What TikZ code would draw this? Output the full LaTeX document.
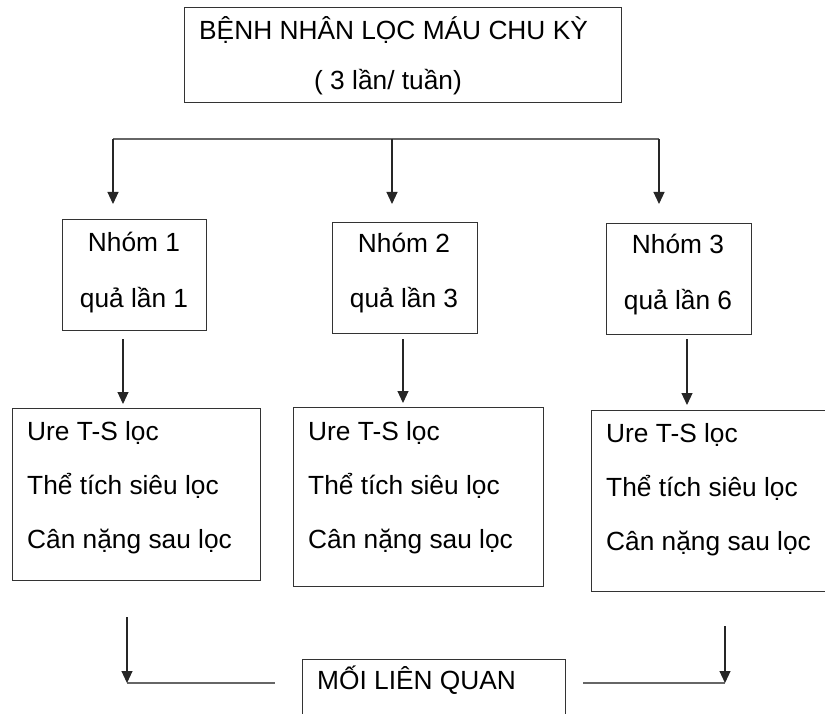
\documentclass[tikz,border=0pt]{standalone}
\usepackage{fontspec}
\setmainfont{Liberation Sans}
\usetikzlibrary{arrows.meta}
\begin{document}
\begin{tikzpicture}[x=1pt,y=-1pt,
  box/.style={draw=black!80,line width=1.2pt,inner sep=0pt,anchor=north west},
  txt/.style={inner sep=0pt,font=\fontsize{26.3}{30}\selectfont},
  lnk/.style={draw=black!60,line width=1.4pt},
  arr/.style={draw=black!85,line width=1.1pt,-{Triangle[width=11pt,length=12pt]}}]
\useasboundingbox (0,0) rectangle (825,714);
\fill[white] (0,0) rectangle (825,714);
\clip (0,0) rectangle (825,714);
% top box
\node[box,minimum width=437pt,minimum height=95pt] (top) at (184,7) {};
\node[txt,anchor=base west] (t1) at (199,40) {BỆNH NHÂN LỌC MÁU CHU KỲ};
\node[txt,anchor=base west] (t2) at (314,90) {( 3 lần/ tuần)};
% distribution line
\coordinate (c1) at (113,139);
\coordinate (c2) at (392,139);
\coordinate (c3) at (659,139);
\coordinate (e1) at (113,204);
\coordinate (e2) at (392,204);
\coordinate (e3) at (659,204);
\draw[lnk] (c1) -- (c3);
\draw[arr] (c1) -- (e1);
\draw[arr] (c2) -- (e2);
\draw[arr] (c3) -- (e3);
% group boxes
\node[box,minimum width=144pt,minimum height=111pt] (g1) at (62,219) {};
\node[box,minimum width=145pt,minimum height=111pt] (g2) at (332,222) {};
\node[box,minimum width=145pt,minimum height=111pt] (g3) at (606,223) {};
\node[txt,anchor=base] (g1a) at (134,252) {Nhóm 1};
\node[txt,anchor=base] (g1b) at (134,307) {quả lần 1};
\node[txt,anchor=base] (g2a) at (404,253) {Nhóm 2};
\node[txt,anchor=base] (g2b) at (404,308) {quả lần 3};
\node[txt,anchor=base] (g3a) at (678,254) {Nhóm 3};
\node[txt,anchor=base] (g3b) at (678,309) {quả lần 6};
% arrows to result boxes
\coordinate (s1) at (123,339);
\coordinate (s2) at (403,339);
\coordinate (s3) at (687,339);
\coordinate (f1) at (123,404);
\coordinate (f2) at (403,403);
\coordinate (f3) at (687,405);
\draw[arr] (s1) -- (f1);
\draw[arr] (s2) -- (f2);
\draw[arr] (s3) -- (f3);
% result boxes
\node[box,minimum width=248pt,minimum height=172pt] (r1) at (12,408) {};
\node[box,minimum width=250pt,minimum height=179pt] (r2) at (293,407) {};
\node[box,minimum width=250pt,minimum height=181pt] (r3) at (591,410) {};
\node[txt,anchor=base west] (r1a) at (27,440) {Ure T-S lọc};
\node[txt,anchor=base west] (r1b) at (27,494) {Thể tích siêu lọc};
\node[txt,anchor=base west] (r1c) at (27,548) {Cân nặng sau lọc};
\node[txt,anchor=base west] (r2a) at (308,440) {Ure T-S lọc};
\node[txt,anchor=base west] (r2b) at (308,494) {Thể tích siêu lọc};
\node[txt,anchor=base west] (r2c) at (308,548) {Cân nặng sau lọc};
\node[txt,anchor=base west] (r3a) at (606,442) {Ure T-S lọc};
\node[txt,anchor=base west] (r3b) at (606,496) {Thể tích siêu lọc};
\node[txt,anchor=base west] (r3c) at (606,550) {Cân nặng sau lọc};
% relation box
\node[box,minimum width=263pt,minimum height=70pt] (rel) at (302,659) {};
\node[txt,anchor=base west] (relt) at (317,689) {MỐI LIÊN QUAN};
% bottom connectors
\coordinate (b1) at (127,617);
\coordinate (b2) at (127,683);
\coordinate (b3) at (275,683);
\coordinate (b4) at (583,683);
\coordinate (b5) at (725,683);
\coordinate (b6) at (725,626);
\draw[lnk] (b2) -- (b3);
\draw[lnk] (b4) -- (b5);
\draw[arr] (b1) -- (b2);
\draw[arr] (b6) -- (b5);
\end{tikzpicture}
\end{document}
